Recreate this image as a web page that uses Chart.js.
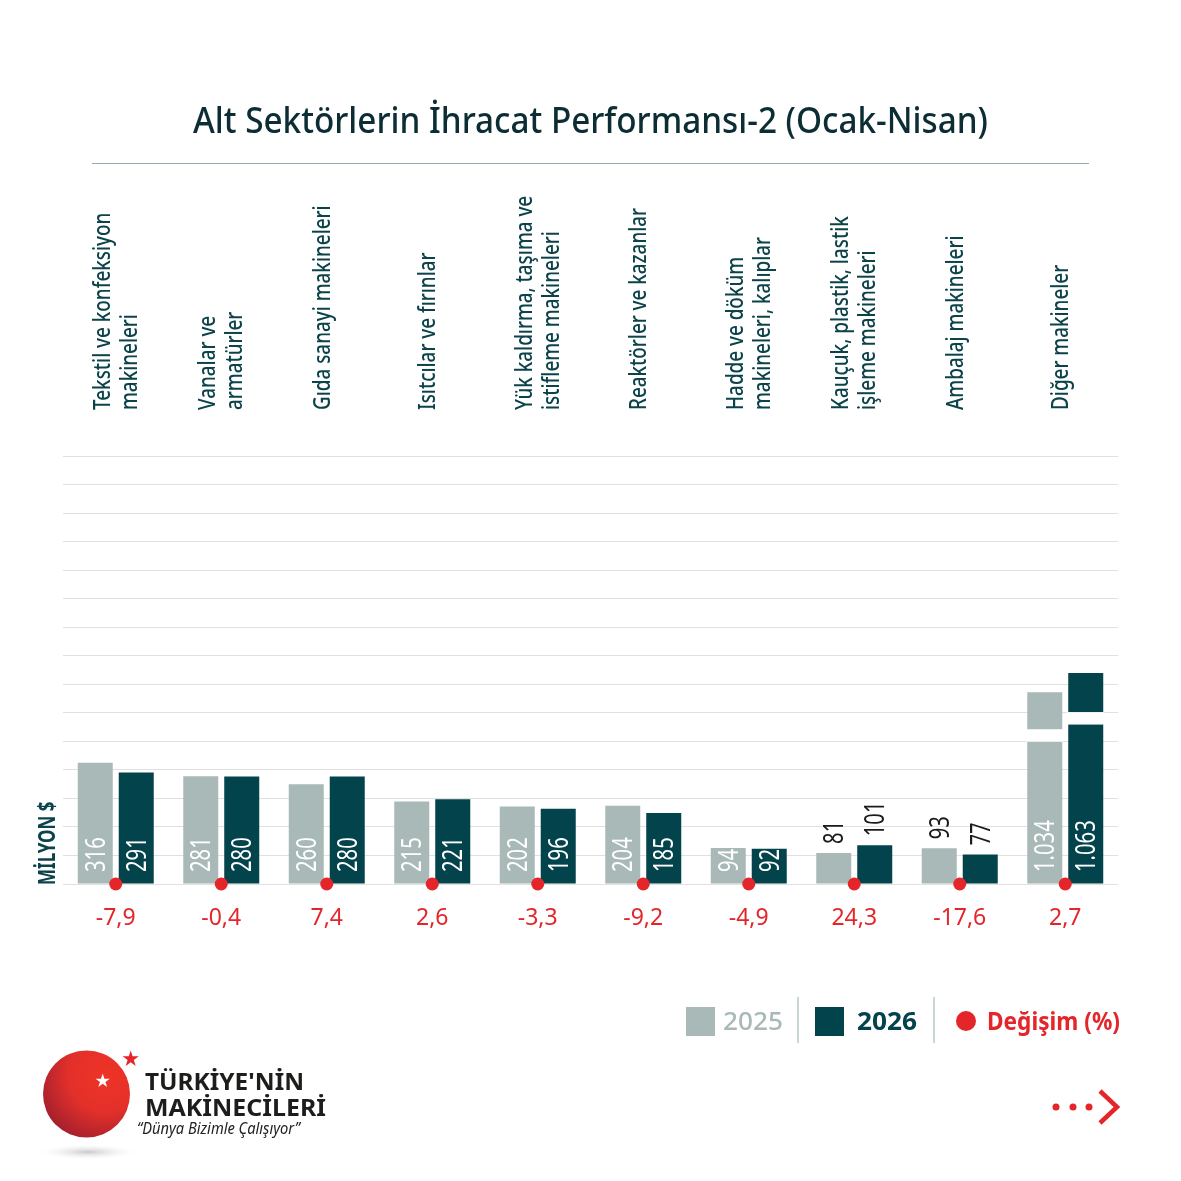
<!DOCTYPE html>
<html lang="tr">
<head>
<meta charset="utf-8">
<title>Alt Sektörlerin İhracat Performansı-2 (Ocak-Nisan)</title>
<script src="https://cdn.jsdelivr.net/npm/chart.js@4.4.1/dist/chart.umd.min.js"></script>
<style>
  html, body { margin: 0; padding: 0; background: #fff; }
  #page { position: relative; width: 1181px; height: 1181px; overflow: hidden; background: #fff; font-family: "Noto Sans", sans-serif; }
  #chart { position: absolute; left: 0; top: 0; }
  .fit { position: absolute; white-space: nowrap; line-height: 1; display: inline-block; }
  #title { top: 102px; font-size: 36px; font-weight: 500; color: #0b2d33; transform-origin: center top; }
  #rule { position: absolute; left: 92px; top: 163px; width: 997px; height: 1px; background: #8eaeb2; }
  .sw { position: absolute; width: 29px; height: 29px; top: 1007px; }
  .sep { position: absolute; top: 997px; width: 2px; height: 46px; background: #c9d6d6; }
  .lg { top: 1008px; font-size: 25px; transform-origin: left top; }
  #brand1, #brand2 { font-size: 24px; font-weight: 700; color: #1d1d1b; transform-origin: left top; }
  #tagline { font-size: 16px; font-style: italic; color: #222; transform-origin: left top; }
</style>
</head>
<body>
<div id="page">
  <canvas id="chart" width="1181" height="1181"></canvas>

  <div id="title" class="fit" data-w="795" data-x="193">Alt Sektörlerin İhracat Performansı-2 (Ocak-Nisan)</div>
  <div id="rule"></div>

  <!-- legend -->
  <div class="sw" style="left:686px;background:#a8b9b8"></div>
  <div class="fit lg" style="left:723px;color:#a8b9b8;font-weight:500" data-w="60" data-x="723">2025</div>
  <div class="sep" style="left:797px"></div>
  <div class="sw" style="left:815px;background:#03434c"></div>
  <div class="fit lg" style="left:857px;color:#03434c;font-weight:700" data-w="60" data-x="857">2026</div>
  <div class="sep" style="left:933px"></div>
  <svg style="position:absolute;left:955px;top:1010px" width="22" height="22"><circle cx="11" cy="11" r="10" fill="#e4262b"/></svg>
  <div class="fit lg" style="left:987px;color:#e4262b;font-weight:700" data-w="133" data-x="987">Değişim (%)</div>

  <!-- logo -->
  <svg style="position:absolute;left:30px;top:1040px" width="120" height="130">
    <defs>
      <radialGradient id="ball" cx="0.72" cy="0.28" r="0.95">
        <stop offset="0" stop-color="#ef3326"/>
        <stop offset="0.45" stop-color="#e3302a"/>
        <stop offset="1" stop-color="#8e1a2e"/>
      </radialGradient>
      <radialGradient id="shade" cx="0.5" cy="0.5" r="0.5">
        <stop offset="0" stop-color="#c8c8c8"/>
        <stop offset="1" stop-color="#ffffff" stop-opacity="0"/>
      </radialGradient>
    </defs>
    <ellipse cx="58" cy="112" rx="52" ry="8" fill="url(#shade)"/>
    <circle cx="56.5" cy="54" r="43.5" fill="url(#ball)"/>
    <polygon fill="#fff" transform="translate(72.7,41) scale(7.5)"
      points="0,-1 0.2245,-0.309 0.951,-0.309 0.3633,0.118 0.5878,0.809 0,0.382 -0.5878,0.809 -0.3633,0.118 -0.951,-0.309 -0.2245,-0.309"/>
    <polygon fill="#e4262b" transform="translate(100.7,19) scale(8.5)"
      points="0,-1 0.2245,-0.309 0.951,-0.309 0.3633,0.118 0.5878,0.809 0,0.382 -0.5878,0.809 -0.3633,0.118 -0.951,-0.309 -0.2245,-0.309"/>
  </svg>
  <div id="brand1" class="fit" style="left:145px;top:1069px" data-w="159" data-x="145">TÜRKİYE'NİN</div>
  <div id="brand2" class="fit" style="left:145px;top:1095px" data-w="181" data-x="145">MAKİNECİLERİ</div>
  <div id="tagline" class="fit" style="left:137px;top:1120px" data-w="163" data-x="137">“Dünya Bizimle Çalışıyor”</div>

  <!-- next arrow -->
  <svg style="position:absolute;left:1048px;top:1086px" width="80" height="42">
    <circle cx="8" cy="21" r="3.5" fill="#e4262b"/>
    <circle cx="25" cy="21" r="3.5" fill="#e4262b"/>
    <circle cx="41" cy="21" r="3.5" fill="#e4262b"/>
    <polyline points="52,5 69,21 52,37" fill="none" stroke="#e4262b" stroke-width="4.5"/>
  </svg>
</div>

<script>
// Categories (each entry holds the label lines)
const categoryLines = [
  ['Tekstil ve konfeksiyon', 'makineleri'],
  ['Vanalar ve', 'armatürler'],
  ['Gıda sanayi makineleri'],
  ['Isıtcılar ve fırınlar'],
  ['Yük kaldırma, taşıma ve', 'istifleme makineleri'],
  ['Reaktörler ve kazanlar'],
  ['Hadde ve döküm', 'makineleri, kalıplar'],
  ['Kauçuk, plastik, lastik', 'işleme makineleri'],
  ['Ambalaj makineleri'],
  ['Diğer makineler']
];

// Exports, million $
const exports2025 = [316, 281, 260, 215, 202, 204, 94, 81, 93, 1034];
const exports2026 = [291, 280, 280, 221, 196, 185, 92, 101, 77, 1063];

// Change, %
const changePct = [-7.9, -0.4, 7.4, 2.6, -3.3, -9.2, -4.9, 24.3, -17.6, 2.7];

// Broken axis: bars above these are cut and drawn this tall
const breakCap = [500, 550];
// groups where the value labels sit above the bars
const labelsAbove = [7, 8];

const GRAY = '#a8b9b8';
const TEAL = '#03434c';
const RED = '#e4262b';
const INK = '#0c434a';

function trNumber(v) {
  return String(v).replace('.', ',');
}
function trThousands(v) {
  return v >= 1000 ? Math.floor(v / 1000) + '.' + String(v % 1000).padStart(3, '0') : String(v);
}

// rotated text reading bottom-to-top, squeezed along its length
function vText(ctx, text, x, y, font, color, squeeze, shift) {
  ctx.save();
  ctx.translate(x, y);
  ctx.rotate(-Math.PI / 2);
  ctx.scale(squeeze, 1);
  ctx.font = font;
  ctx.fillStyle = color;
  ctx.textAlign = 'left';
  ctx.textBaseline = 'alphabetic';
  ctx.fillText(text, 0, shift);
  ctx.restore();
}

const decor = {
  id: 'decor',
  afterDatasetsDraw(chart) {
    const ctx = chart.ctx;
    const xs = chart.scales.x;
    const ys = chart.scales.y;
    const base = ys.getPixelForValue(0);

    [exports2025, exports2026].forEach((values, d) => {
      const meta = chart.getDatasetMeta(d);
      meta.data.forEach((bar, i) => {
        const v = values[i];
        if (v > breakCap[d]) {
          ctx.save();
          ctx.fillStyle = '#fff';
          ctx.fillRect(bar.x - bar.width / 2 - 1, bar.y + 37 + d * 2, bar.width + 2, 12.5);
          ctx.restore();
        }
        const font = '400 27px "Noto Sans"';
        const capShift = 27 * 0.36;
        if (labelsAbove.includes(i)) {
          vText(ctx, trThousands(v), bar.x, bar.y - 9, font, '#1b1b1b', 0.75, capShift);
        } else {
          vText(ctx, trThousands(v), bar.x, base - 12, font, '#ffffff', 0.75, capShift);
        }
      });
    });

    // change labels under the axis
    ctx.save();
    ctx.font = '400 23px "Noto Sans"';
    ctx.fillStyle = RED;
    ctx.textAlign = 'center';
    ctx.textBaseline = 'alphabetic';
    changePct.forEach((c, i) => {
      ctx.fillText(trNumber(c), xs.getPixelForValue(i), 925);
    });
    ctx.restore();

    // category names above the plot
    categoryLines.forEach((lines, i) => {
      const cx = xs.getPixelForValue(i);
      const offsets = lines.length === 2 ? [-6, 21] : [3];
      lines.forEach((line, k) => {
        vText(ctx, line, cx + offsets[k], 410, '500 23px "Noto Sans"', INK, 0.82, 0);
      });
    });

    // unit label
    vText(ctx, 'MİLYON $', 55, 885, '700 23px "Noto Sans"', INK, 0.74, 0);
  }
};

new Chart(document.getElementById('chart'), {
  type: 'bar',
  data: {
    labels: categoryLines.map(l => l.join(' ')),
    datasets: [
      {
        label: '2025',
        data: exports2025.map(v => Math.min(v, breakCap[0])),
        backgroundColor: GRAY,
        order: 1
      },
      {
        label: '2026',
        data: exports2026.map(v => Math.min(v, breakCap[1])),
        backgroundColor: TEAL,
        order: 1
      },
      {
        type: 'line',
        label: 'Değişim (%)',
        data: changePct.map(() => 0),
        showLine: false,
        pointRadius: 6.5,
        pointBorderWidth: 0,
        pointBackgroundColor: RED,
        clip: false,
        order: 0
      }
    ]
  },
  options: {
    responsive: false,
    animation: false,
    devicePixelRatio: 1,
    layout: { padding: { left: 63, right: 63, top: 456, bottom: 297 } },
    datasets: {
      bar: { categoryPercentage: 0.777, barPercentage: 0.854 }
    },
    plugins: {
      legend: { display: false },
      tooltip: { enabled: false }
    },
    scales: {
      x: { display: false },
      y: {
        min: 0,
        max: 1116,
        ticks: { display: false, count: 16 },
        border: { display: false },
        grid: { color: '#e0e0e0', lineWidth: 1, drawTicks: false }
      }
    }
  },
  plugins: [decor]
});

// squeeze html texts to the widths of the original artwork
function fitTexts() {
  document.querySelectorAll('.fit').forEach(el => {
    el.style.transform = 'none';
    el.style.left = el.dataset.x + 'px';
    const w = el.getBoundingClientRect().width;
    const s = Number(el.dataset.w) / w;
    el.style.transformOrigin = 'left top';
    el.style.transform = 'scaleX(' + s + ')';
  });
}
fitTexts();
if (document.fonts && document.fonts.ready) document.fonts.ready.then(fitTexts);
</script>
</body>
</html>
